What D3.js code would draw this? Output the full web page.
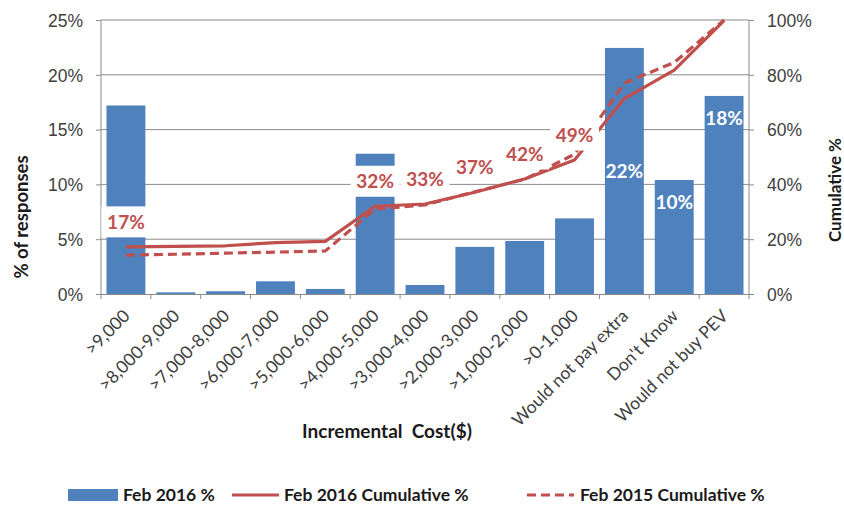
<!DOCTYPE html>
<html>
<head>
<meta charset="utf-8">
<script src="https://cdn.jsdelivr.net/npm/d3@7/dist/d3.min.js"></script>
<style>
  html, body { margin: 0; padding: 0; background: #fff; }
  svg { display: block; font-family: Lato, "Open Sans", sans-serif; }
</style>
</head>
<body>
<svg id="chart" width="844" height="508"></svg>
<script>
// Incremental cost categories
const categories = [">9,000", ">8,000-9,000", ">7,000-8,000", ">6,000-7,000", ">5,000-6,000",
  ">4,000-5,000", ">3,000-4,000", ">2,000-3,000", ">1,000-2,000", ">0-1,000",
  "Would not pay extra", "Don't Know", "Would not buy PEV"];

// Feb 2016 share of responses (%)
const feb2016 = [17.2, 0.15, 0.25, 1.16, 0.46, 12.8, 0.82, 4.3, 4.84, 6.9, 22.45, 10.4, 18.07];

// Feb 2015 cumulative share (%)
const feb2015Cumulative = [14.2, 14.5, 14.9, 15.3, 15.7, 31.0, 32.5, 37.3, 41.9, 51.0, 77.0, 84.5, 100];

// Axis ticks
const leftTicks = [0, 5, 10, 15, 20, 25];
const rightTicks = [0, 20, 40, 60, 80, 100];

// Which categories carry a cumulative label, and which carry a bar label
const cumulativeLabelIdx = [0, 5, 6, 7, 8, 9];
const barLabelIdx = [10, 11, 12];

// Feb 2016 cumulative share, summed from the bars
const feb2016Cumulative = [];
feb2016.reduce((acc, v, i) => { feb2016Cumulative[i] = acc + v; return acc + v; }, 0);

const BLUE = "#4F81BD", RED = "#C0504D", GRID = "#8a8a8a", TXT = "#404040";

const svg = d3.select("#chart");
const m = { left: 101, right: 749, top: 20, bottom: 294 };

const x = d3.scaleBand().domain(categories).range([m.left, m.right])
  .paddingInner(0.22).paddingOuter(0.11);
const yL = d3.scaleLinear().domain([0, 25]).range([m.bottom, m.top]);
const yR = d3.scaleLinear().domain([0, 100]).range([m.bottom, m.top]);
const cx = c => x(c) + x.bandwidth() / 2;

// gridlines
svg.append("g").selectAll("line").data(leftTicks.filter(t => t > 0)).join("line")
  .attr("x1", m.left).attr("x2", m.right)
  .attr("y1", d => yL(d)).attr("y2", d => yL(d))
  .attr("stroke", GRID).attr("stroke-width", 1);

// left and right axes
const leftAxis = svg.append("g").attr("transform", `translate(${m.left},0)`)
  .call(d3.axisLeft(yL).tickValues(leftTicks).tickFormat(d => d + "%").tickSize(5).tickPadding(13));
const rightAxis = svg.append("g").attr("transform", `translate(${m.right},0)`)
  .call(d3.axisRight(yR).tickValues(rightTicks).tickFormat(d => d + "%").tickSize(5).tickPadding(13));
[leftAxis, rightAxis].forEach(a => {
  a.select(".domain").attr("stroke", GRID).attr("d", `M0,${m.top}V${m.bottom}`);
  a.selectAll(".tick line").attr("stroke", GRID);
  a.selectAll(".tick text").attr("fill", TXT).style("font-size", "17.5px").attr("dy", "0.36em");
});

// bottom axis line and ticks between categories
const bottom = svg.append("g");
bottom.append("line").attr("x1", m.left).attr("x2", m.right)
  .attr("y1", m.bottom + 0.5).attr("y2", m.bottom + 0.5).attr("stroke", GRID);
const step = x.step();
bottom.selectAll("line.tk").data(d3.range(categories.length + 1)).join("line")
  .attr("class", "tk")
  .attr("x1", i => m.left + i * step).attr("x2", i => m.left + i * step)
  .attr("y1", m.bottom).attr("y2", m.bottom + 5).attr("stroke", GRID);

// category labels
bottom.selectAll("text").data(categories).join("text")
  .attr("transform", d => `translate(${cx(d) + 5},${m.bottom + 23}) rotate(-45)`)
  .attr("text-anchor", "end").attr("fill", TXT).style("font-size", "17.5px")
  .text(d => d);

// bars
svg.append("g").selectAll("rect").data(feb2016).join("rect")
  .attr("x", (d, i) => x(categories[i])).attr("width", x.bandwidth())
  .attr("y", d => yL(d)).attr("height", d => yL(0) - yL(d))
  .attr("fill", BLUE);

// cumulative lines
const line = d3.line().x((d, i) => cx(categories[i])).y(d => yR(d));
svg.append("path").datum(feb2016Cumulative).attr("d", line)
  .attr("fill", "none").attr("stroke", RED).attr("stroke-width", 3.2).attr("stroke-linejoin", "round");
svg.append("path").datum(feb2015Cumulative).attr("d", line)
  .attr("fill", "none").attr("stroke", RED).attr("stroke-width", 3.2)
  .attr("stroke-dasharray", "9,5");

// cumulative value labels on white boxes
const cumLab = svg.append("g").selectAll("g").data(cumulativeLabelIdx).join("g")
  .attr("transform", i => `translate(${cx(categories[i])},${yR(feb2016Cumulative[i]) - 25})`);
cumLab.append("rect").attr("x", -24.5).attr("y", -15.5).attr("width", 49).attr("height", 31).attr("fill", "#fff");
cumLab.append("text").attr("text-anchor", "middle").attr("dy", "0.36em")
  .attr("fill", RED).style("font-size", "19px").style("font-weight", "bold")
  .text(i => Math.round(feb2016Cumulative[i]) + "%");

// bar value labels
const barLabelY = i => i === 10 ? (yL(feb2016[i]) + yL(0)) / 2 : yL(feb2016[i]) + 22;
svg.append("g").selectAll("text").data(barLabelIdx).join("text")
  .attr("x", i => cx(categories[i])).attr("y", barLabelY)
  .attr("text-anchor", "middle").attr("dy", "0.36em")
  .attr("fill", "#fff").style("font-size", "19px").style("font-weight", "bold")
  .text(i => Math.round(feb2016[i]) + "%");

// axis titles
svg.append("text").attr("transform", "translate(28,217) rotate(-90)")
  .attr("text-anchor", "middle").style("font-size", "18.5px").style("font-weight", "bold")
  .attr("fill", "#1a1a1a").text("% of responses");
svg.append("text").attr("transform", "translate(841,190) rotate(-90)")
  .attr("text-anchor", "middle").style("font-size", "17px").style("font-weight", "bold")
  .attr("fill", "#1a1a1a").text("Cumulative %");
svg.append("text").attr("x", 387).attr("y", 431).attr("dy", "0.36em")
  .attr("text-anchor", "middle").style("font-size", "19px").style("font-weight", "bold")
  .style("white-space", "pre").attr("fill", "#1a1a1a").text("Incremental  Cost($)");

// legend
const lg = svg.append("g").attr("transform", "translate(0,495)");
lg.append("rect").attr("x", 68).attr("y", -6).attr("width", 50).attr("height", 12).attr("fill", BLUE);
lg.append("line").attr("x1", 232).attr("x2", 279).attr("stroke", RED).attr("stroke-width", 3.2);
lg.append("line").attr("x1", 527).attr("x2", 574).attr("stroke", RED).attr("stroke-width", 3.2)
  .attr("stroke-dasharray", "9,5");
const legendItems = [["Feb 2016 %", 123], ["Feb 2016 Cumulative %", 284], ["Feb 2015 Cumulative %", 580]];
lg.selectAll("text").data(legendItems).join("text")
  .attr("x", d => d[1]).attr("dy", "0.36em").attr("fill", "#1a1a1a")
  .style("font-size", "17.5px").style("font-weight", "bold").text(d => d[0]);
</script>
</body>
</html>
